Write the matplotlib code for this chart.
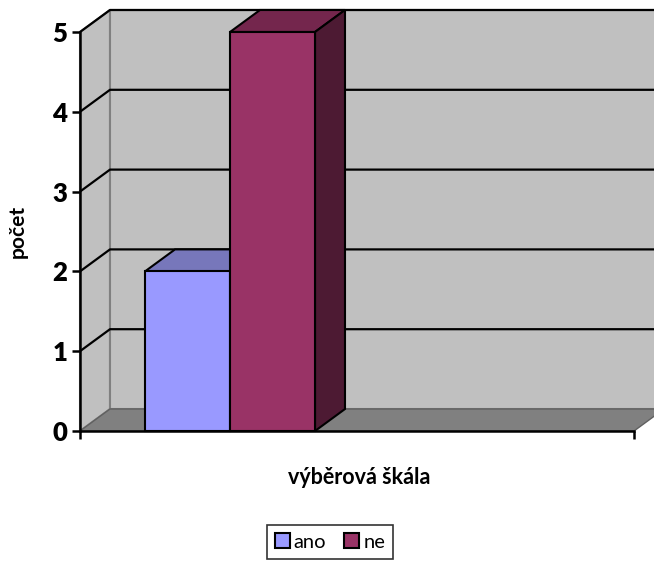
import matplotlib
matplotlib.use("Agg")
import matplotlib.pyplot as plt
from matplotlib.patches import Polygon, Patch

# ---- data ----
series = ["ano", "ne"]
values = [2, 5]
yticks = [0, 1, 2, 3, 4, 5]
ylabel = "počet"
xlabel = "výběrová škála"

# ---- style ----
front_cols = ["#9999FF", "#993366"]
top_cols = ["#7777BB", "#74264D"]
side_cols = ["#5A5A99", "#4D1A33"]
W, H = 654, 567
plt.rcParams['font.family'] = ['Lato', 'DejaVu Sans']
fig = plt.figure(figsize=(W / 100, H / 100), dpi=100)

L, R, B, T = 80, 634, 431, 32
ax = fig.add_axes([L / W, 1 - B / H, (R - L) / W, (B - T) / H])
ymax = yticks[-1]
ax.set_xlim(0, 1)
ax.set_ylim(0, ymax)
DX = 30 / (R - L)
DY = 22 / ((B - T) / ymax)

def poly(pts, fc, ec, lw, z):
    p = Polygon(pts, closed=True, facecolor=fc, edgecolor=ec, linewidth=lw,
                zorder=z, clip_on=False, joinstyle='miter')
    ax.add_patch(p)

# walls
poly([(0, 0), (DX, DY), (DX, ymax + DY), (0, ymax)], "#C0C0C0", "#808080", 1.5, 1)
poly([(DX, DY), (1.2, DY), (1.2, ymax + DY), (DX, ymax + DY)], "#C0C0C0", "#808080", 1.5, 1)
# floor
poly([(0, 0), (1, 0), (1 + DX, DY), (DX, DY)], "#808080", "#606060", 1.0, 2)
# gridlines
for v in yticks[1:]:
    ax.plot([0, DX, 1.2], [v, v + DY, v + DY], color="black", lw=1.6, zorder=3,
            clip_on=False, solid_capstyle='butt')

# bars
bw = 85 / (R - L)
x0 = (145 - L) / (R - L)
for i, (s, v) in enumerate(zip(series, values)):
    xa = x0 + i * bw
    xb = xa + bw
    z = 5 + i * 2
    poly([(xa, v), (xb, v), (xb + DX, v + DY), (xa + DX, v + DY)], top_cols[i], "black", 1.5, z)
    poly([(xb, 0), (xb + DX, DY), (xb + DX, v + DY), (xb, v)], side_cols[i], "black", 1.5, z)
    poly([(xa, 0), (xb, 0), (xb, v), (xa, v)], front_cols[i], "black", 1.5, z + 1)

# axes
for sp in ["top", "right"]:
    ax.spines[sp].set_visible(False)
for sp in ["left", "bottom"]:
    ax.spines[sp].set_color("black")
    ax.spines[sp].set_linewidth(1.8)
    ax.spines[sp].set_zorder(20)
ax.patch.set_visible(False)
ax.set_yticks(yticks)
ax.set_yticklabels([str(t) for t in yticks], fontsize=18.5, fontweight='heavy')
ax.set_xticks([0, 1])
ax.set_xticklabels(["", ""])
ax.tick_params(axis='both', direction='out', length=6, width=1.8, color='black', pad=3)

fig.text(18 / W, 1 - 231 / H, ylabel, rotation=90, ha='center', va='center',
         fontsize=15, fontweight='bold')
fig.text(359 / W, 1 - 478 / H, xlabel, ha='center', va='center',
         fontsize=15.5, fontweight='bold')

handles = [Patch(facecolor=c, edgecolor='black', linewidth=1.5) for c in front_cols]
leg = fig.legend(handles, series, loc='center', bbox_to_anchor=(330 / W, 1 - 542 / H),
                 ncol=2, frameon=True, fancybox=False, fontsize=14.5,
                 handlelength=0.75, handleheight=0.75, handletextpad=0.2,
                 columnspacing=0.9, borderpad=0.4, borderaxespad=0)
leg.get_frame().set_edgecolor('black')
leg.get_frame().set_linewidth(1.2)

fig.savefig("out.png", dpi=100)
